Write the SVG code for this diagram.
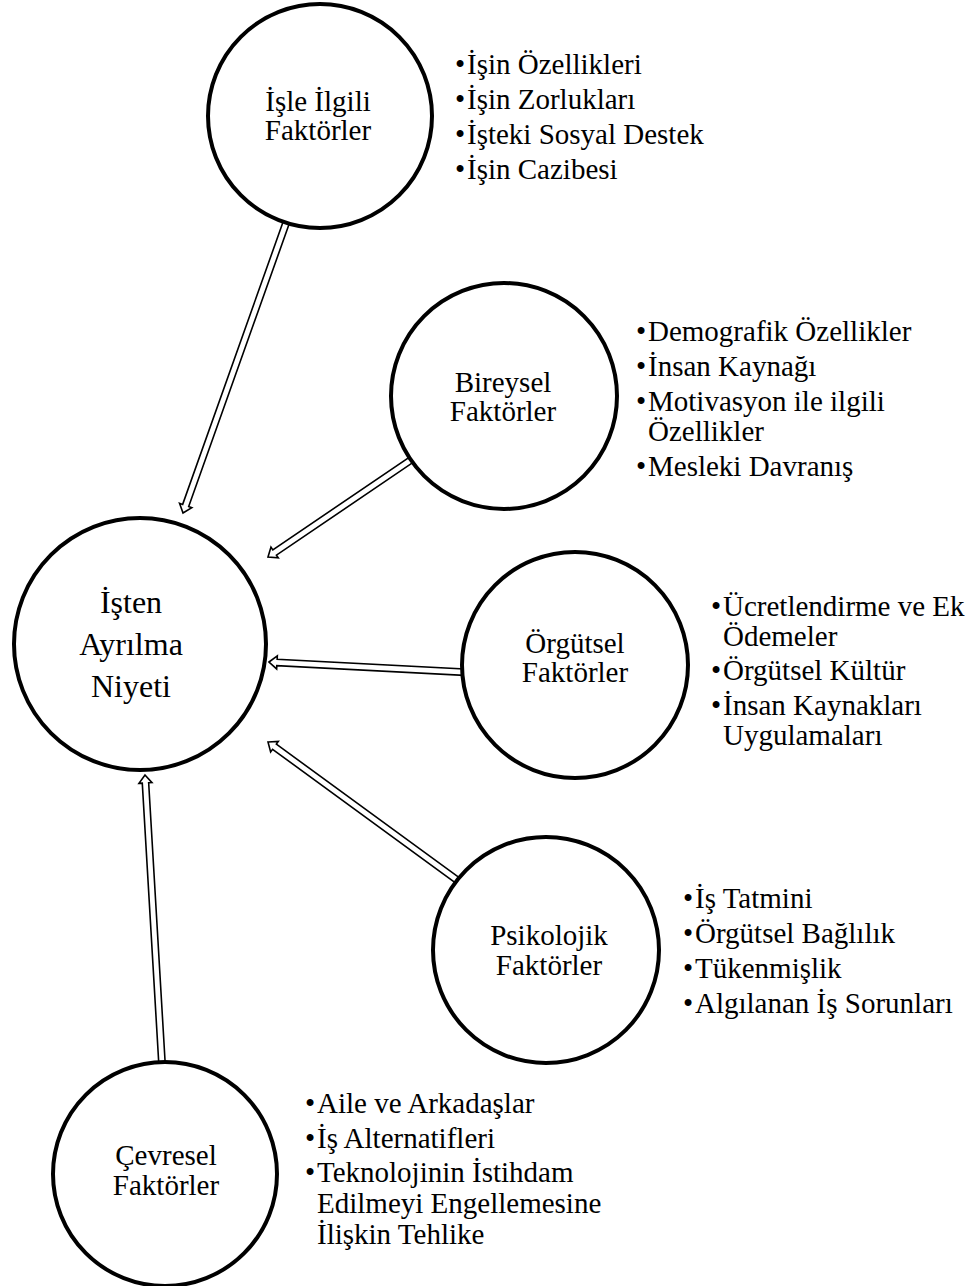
<svg xmlns="http://www.w3.org/2000/svg" width="974" height="1286" viewBox="0 0 974 1286">
<style>
  .node { fill: #ffffff; stroke: #000000; stroke-width: 4; }
  .lbl { font-family: "Liberation Serif", "Times New Roman", serif; font-size: 29px; fill: #000000; text-anchor: middle; }
  .main { font-size: 32px; }
  .li { font-family: "Liberation Serif", "Times New Roman", serif; font-size: 29px; fill: #000000; }
  .arr { fill: #ffffff; stroke: #000000; stroke-width: 1.6; stroke-linejoin: miter; }
</style>
<defs>
  <path id="a1" d="M0,0 L8,-6.5 L8,-3.2 L310,-3.2 L310,3.2 L8,3.2 L8,6.5 Z"/>
  <path id="a2" d="M0,0 L8,-6.5 L8,-3.2 L175,-3.2 L175,3.2 L8,3.2 L8,6.5 Z"/>
  <path id="a3" d="M0,0 L8,-6.5 L8,-3.2 L200,-3.2 L200,3.2 L8,3.2 L8,6.5 Z"/>
  <path id="a4" d="M0,0 L8,-6.5 L8,-3.2 L240,-3.2 L240,3.2 L8,3.2 L8,6.5 Z"/>
  <path id="a5" d="M0,0 L8,-6.5 L8,-3.2 L295,-3.2 L295,3.2 L8,3.2 L8,6.5 Z"/>
</defs>
<rect width="974" height="1286" fill="#ffffff"/>

<g id="connectors">
  <use href="#a1" class="arr" transform="translate(183,513) rotate(-70.43)"/>
  <use href="#a2" class="arr" transform="translate(268,557) rotate(-34.16)"/>
  <use href="#a3" class="arr" transform="translate(269,662) rotate(2.97)"/>
  <use href="#a4" class="arr" transform="translate(268,742) rotate(36.14)"/>
  <use href="#a5" class="arr" transform="translate(145,775) rotate(86.63)"/>
</g>

<g id="node-isten-ayrilma">
  <circle class="node" cx="140" cy="644" r="126"/>
  <text class="lbl main" x="131" y="613">İşten</text>
  <text class="lbl main" x="131" y="655">Ayrılma</text>
  <text class="lbl main" x="131" y="697">Niyeti</text>
</g>

<g id="node-isle-ilgili">
  <circle class="node" cx="320" cy="116" r="112"/>
  <text class="lbl" x="318" y="111">İşle İlgili</text>
  <text class="lbl" x="318" y="140">Faktörler</text>
  <g class="li">
    <text x="455" y="74">•</text><text x="467" y="74">İşin Özellikleri</text>
    <text x="455" y="109">•</text><text x="467" y="109">İşin Zorlukları</text>
    <text x="455" y="144">•</text><text x="467" y="144">İşteki Sosyal Destek</text>
    <text x="455" y="179">•</text><text x="467" y="179">İşin Cazibesi</text>
  </g>
</g>

<g id="node-bireysel">
  <circle class="node" cx="504" cy="396" r="113"/>
  <text class="lbl" x="503" y="392">Bireysel</text>
  <text class="lbl" x="503" y="421">Faktörler</text>
  <g class="li">
    <text x="636" y="341">•</text><text x="648" y="341">Demografik Özellikler</text>
    <text x="636" y="376">•</text><text x="648" y="376">İnsan Kaynağı</text>
    <text x="636" y="411">•</text><text x="648" y="411">Motivasyon ile ilgili</text>
    <text x="648" y="441">Özellikler</text>
    <text x="636" y="476">•</text><text x="648" y="476">Mesleki Davranış</text>
  </g>
</g>

<g id="node-orgutsel">
  <circle class="node" cx="575" cy="665" r="113"/>
  <text class="lbl" x="575" y="653">Örgütsel</text>
  <text class="lbl" x="575" y="682">Faktörler</text>
  <g class="li">
    <text x="711" y="616">•</text><text x="723" y="616">Ücretlendirme ve Ek</text>
    <text x="723" y="646">Ödemeler</text>
    <text x="711" y="680">•</text><text x="723" y="680">Örgütsel Kültür</text>
    <text x="711" y="715">•</text><text x="723" y="715">İnsan Kaynakları</text>
    <text x="723" y="745">Uygulamaları</text>
  </g>
</g>

<g id="node-psikolojik">
  <circle class="node" cx="546" cy="950" r="113"/>
  <text class="lbl" x="549" y="945">Psikolojik</text>
  <text class="lbl" x="549" y="975">Faktörler</text>
  <g class="li">
    <text x="683" y="908">•</text><text x="695" y="908">İş Tatmini</text>
    <text x="683" y="943">•</text><text x="695" y="943">Örgütsel Bağlılık</text>
    <text x="683" y="978">•</text><text x="695" y="978">Tükenmişlik</text>
    <text x="683" y="1013">•</text><text x="695" y="1013">Algılanan İş Sorunları</text>
  </g>
</g>

<g id="node-cevresel">
  <circle class="node" cx="165" cy="1174" r="112"/>
  <text class="lbl" x="166" y="1165">Çevresel</text>
  <text class="lbl" x="166" y="1195">Faktörler</text>
  <g class="li">
    <text x="305" y="1113">•</text><text x="317" y="1113">Aile ve Arkadaşlar</text>
    <text x="305" y="1148">•</text><text x="317" y="1148">İş Alternatifleri</text>
    <text x="305" y="1182">•</text><text x="317" y="1182">Teknolojinin İstihdam</text>
    <text x="317" y="1213">Edilmeyi Engellemesine</text>
    <text x="317" y="1244">İlişkin Tehlike</text>
  </g>
</g>
</svg>
